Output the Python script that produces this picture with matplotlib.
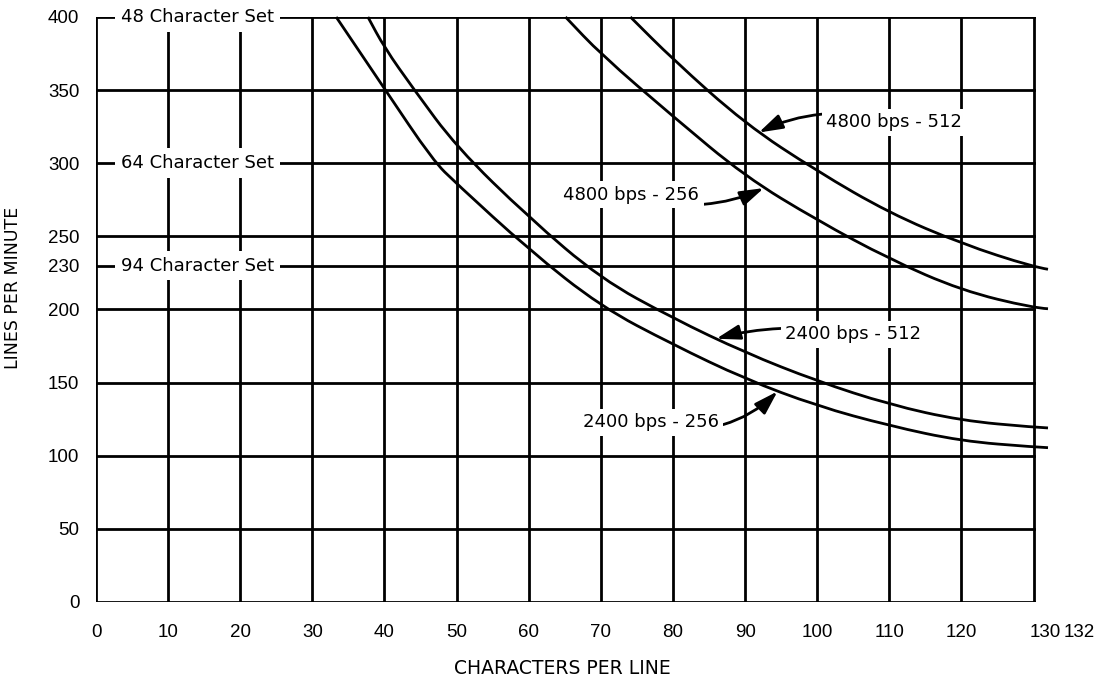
import matplotlib
matplotlib.use("Agg")
import matplotlib.pyplot as plt
from matplotlib.path import Path
from matplotlib.patches import PathPatch
from matplotlib.transforms import ScaledTranslation

# Characters per line (x) and lines per minute (y) for each transmission curve
cpl_2400_256 = [33.3, 40, 46.7, 50, 60, 70, 80, 90, 100, 110, 120, 130, 132]
lpm_2400_256 = [400, 351, 302, 286, 241, 202, 176, 152.5, 134, 120.5, 110, 106, 105.5]

cpl_2400_512 = [37.7, 40, 44, 50, 60, 70, 80, 90, 100, 110, 120, 130, 132]
lpm_2400_512 = [400, 379, 351, 311, 263, 221, 194, 170.5, 151, 135, 124, 119.5, 119]

cpl_4800_256 = [65.1, 70, 80, 90, 100, 110, 120, 130, 132]
lpm_4800_256 = [400, 374.5, 332, 291, 261, 234.5, 213, 201, 200.5]

cpl_4800_512 = [74.1, 80, 90, 100, 110, 120, 130, 132]
lpm_4800_512 = [400, 371, 327, 294.5, 266, 245, 229, 227.5]

x_ticks = [0, 10, 20, 30, 40, 50, 60, 70, 80, 90, 100, 110, 120, 130, 132]
y_ticks = [0, 50, 100, 150, 200, 230, 250, 300, 350, 400]
x_grid = [0, 10, 20, 30, 40, 50, 60, 70, 80, 90, 100, 110, 120, 130]

char_set_labels = ["48 Character Set", "64 Character Set", "94 Character Set"]
char_set_levels = [400, 300, 230]


def smooth_path(xs, ys):
    """Quadratic-Bezier path through the midpoints, using each reading as a control point."""
    pts = list(zip(xs, ys))
    verts = [pts[0]]
    codes = [Path.MOVETO]
    if len(pts) > 2:
        first_mid = ((pts[0][0] + pts[1][0]) / 2, (pts[0][1] + pts[1][1]) / 2)
        verts.append(first_mid)
        codes.append(Path.LINETO)
        for i in range(1, len(pts) - 2):
            mid = ((pts[i][0] + pts[i + 1][0]) / 2, (pts[i][1] + pts[i + 1][1]) / 2)
            verts += [pts[i], mid]
            codes += [Path.CURVE3, Path.CURVE3]
        verts += [pts[-2], pts[-1]]
        codes += [Path.CURVE3, Path.CURVE3]
    else:
        verts.append(pts[-1])
        codes.append(Path.LINETO)
    return Path(verts, codes)


fig = plt.figure(figsize=(10.96, 6.85), dpi=100)
ax = fig.add_axes([0.0876, 0.1212, 0.8686, 0.854])
ax.set_xlim(0, 132)
ax.set_ylim(0, 400)
for s in ax.spines.values():
    s.set_visible(False)

# heavy drafting grid, framed at 0..130 x 0..400
ax.hlines(y_ticks, 0, 130, color="black", lw=2.0, zorder=1, capstyle="projecting")
ax.vlines(x_grid, 0, 400, color="black", lw=2.0, zorder=1, capstyle="projecting")

curves = [
    (cpl_2400_256, lpm_2400_256),
    (cpl_2400_512, lpm_2400_512),
    (cpl_4800_256, lpm_4800_256),
    (cpl_4800_512, lpm_4800_512),
]
for xs, ys in curves:
    ax.add_patch(PathPatch(smooth_path(xs, ys), fill=False, ec="black", lw=2.0,
                           zorder=2, clip_on=False, capstyle="butt", joinstyle="round"))

# character-set levels labelled inside the horizontal rules
for lab, lev in zip(char_set_labels, char_set_levels):
    ax.text(14.1, lev, lab, ha="center", va="center", fontsize=13,
            family="DejaVu Sans", zorder=4,
            bbox=dict(boxstyle="square,pad=0.32", fc="white", ec="none"))

# curve call-outs with arrows
callouts = [
    ("4800 bps - 512", (110.7, 328), (91.9, 321), 0.2),
    ("4800 bps - 256", (74.2, 278.5), (92.6, 283), 0.2),
    ("2400 bps - 512", (105.0, 183), (86.0, 180), 0.12),
    ("2400 bps - 256", (76.9, 123), (94.5, 144), 0.3),
]
for txt, pos, tip, rad in callouts:
    ax.annotate(txt, xy=tip, xytext=pos, ha="center", va="center",
                fontsize=13, family="DejaVu Sans", zorder=5,
                bbox=dict(boxstyle="square,pad=0.25", fc="white", ec="none"),
                arrowprops=dict(arrowstyle="-|>,head_length=0.8,head_width=0.25",
                                mutation_scale=18, color="black", lw=2.0,
                                shrinkA=0, shrinkB=0,
                                connectionstyle=f"arc3,rad={rad}"))

ax.set_xticks(x_ticks)
ax.set_xticklabels([str(v) for v in x_ticks])
ax.set_yticks(y_ticks)
ax.set_yticklabels([str(v) for v in y_ticks])
ax.tick_params(axis="x", length=0, pad=16, labelsize=13.5)
ax.tick_params(axis="y", length=0, pad=12, labelsize=13.5)
for lab in ax.get_xticklabels() + ax.get_yticklabels():
    lab.set_family("Liberation Sans")

# spread the two crowded labels at the right end
xl = ax.get_xticklabels()
xl[-2].set_transform(xl[-2].get_transform() + ScaledTranslation(0.12, 0, fig.dpi_scale_trans))
xl[-1].set_transform(xl[-1].get_transform() + ScaledTranslation(0.31, 0, fig.dpi_scale_trans))

fig.text(0.0115, 0.58, "LINES PER MINUTE", rotation=90, ha="center", va="center",
         fontsize=12.5, family="DejaVu Sans")
fig.text(0.5128, 0.0248, "CHARACTERS PER LINE", ha="center", va="center",
         fontsize=13.5, family="DejaVu Sans")

fig.savefig("out.png", dpi=100, facecolor="white")
